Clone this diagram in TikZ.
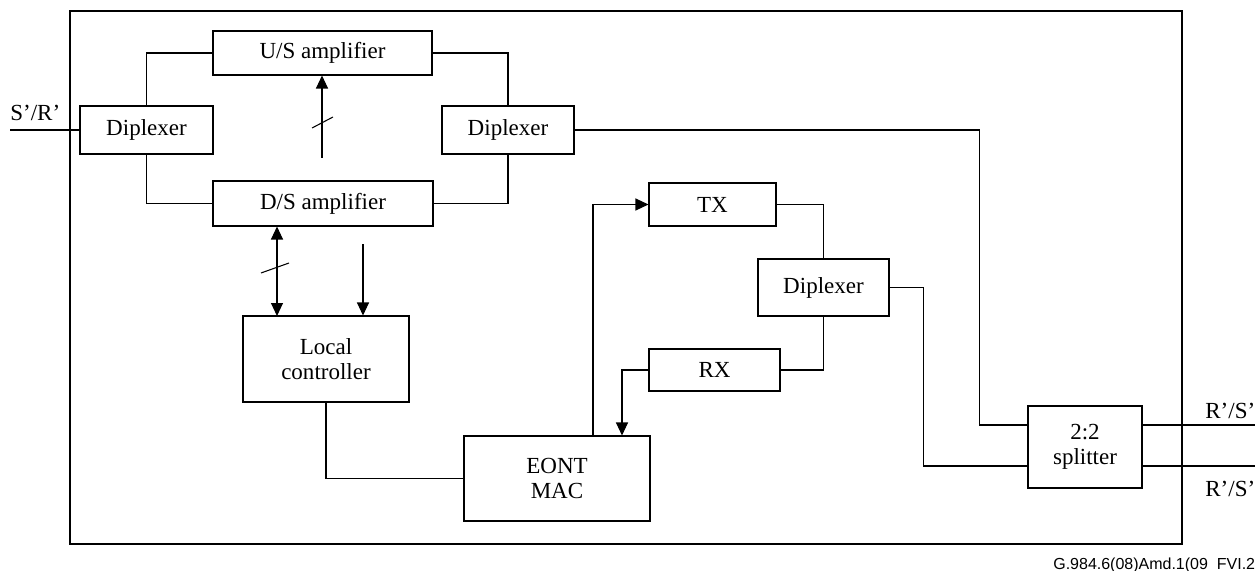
\documentclass[tikz,border=0pt]{standalone}
\usepackage{fontspec}
\setmainfont{Liberation Serif}
\newfontfamily\footfont{Liberation Sans}
\usepackage{tikz}
\usetikzlibrary{arrows.meta,positioning,calc}

\begin{document}
\begin{tikzpicture}[x=0.02cm, y=-0.02cm,
        bx/.style={draw, line width=0.6pt, inner sep=0pt, align=center,
                   font=\fontsize{13.1}{14.5}\selectfont},
        lbl/.style={inner sep=0pt, font=\fontsize{13.1}{14.5}\selectfont},
        ln/.style={line width=0.6pt},
        arr/.style={ln, -{Triangle[length=0.26cm,width=0.24cm]}},
        darr/.style={ln, {Triangle[length=0.26cm,width=0.24cm]}-{Triangle[length=0.26cm,width=0.24cm]}}
      ]
        \useasboundingbox (0,0) rectangle (1255,571);
        % outer frame
        \draw[line width=0.7pt] (70,11) rectangle (1182,544);
        % AMPLIFIER PART
        \node[bx, minimum width=2.66cm, minimum height=0.96cm] (dipL) at (146.5,130) {Diplexer};
        \node[bx, minimum width=4.38cm, minimum height=0.88cm] (us) at (322.5,53) {U/S amplifier};
        \node[bx, minimum width=4.40cm, minimum height=0.90cm] (ds) at (323,203.5) {D/S amplifier};
        \node[bx, minimum width=2.64cm, minimum height=0.96cm] (dipR) at (508,130) {Diplexer};
        \node[bx, minimum width=3.32cm, minimum height=1.72cm] (lc) at (326,359) {Local\\controller};
        % EONT PART
        \node[bx, minimum width=3.72cm, minimum height=1.70cm] (eont) at (557,478.5) {EONT\\MAC};
        \node[bx, minimum width=2.54cm, minimum height=0.86cm] (tx) at (712.5,204.5) {TX};
        \node[bx, minimum width=2.62cm, minimum height=1.14cm] (dipT) at (823.5,287.5) {Diplexer};
        \node[bx, minimum width=2.62cm, minimum height=0.84cm] (rx) at (714.5,370) {RX};
        \node[bx, minimum width=2.28cm, minimum height=1.64cm] (spl) at (1085,447) {2:2\\splitter};
        % ports
        \coordinate (srin) at (10,130);
        \coordinate (s1) at (1028,425);
        \coordinate (s2) at (1028,466);
        \coordinate (o1) at (1255,425);
        \coordinate (o2) at (1255,466);
        \node[lbl, anchor=base west] (srlbl) at (10,121) {S’/R’};
        \node[lbl, anchor=base west] (rs1) at (1205,418) {R’/S’};
        \node[lbl, anchor=base west] (rs2) at (1205,496) {R’/S’};
        \draw[ln] (srin) -- (dipL.west);
        \draw[ln] (s1 -| spl.east) -- (o1);
        \draw[ln] (s2 -| spl.east) -- (o2);
        % amplifier links
        \draw[ln] (dipL.north) |- (us.west);
        \draw[ln] (dipL.south) |- (ds.west);
        \draw[ln] (dipR.north) |- (us.east);
        \draw[ln] (dipR.south) |- (ds.east);
        % control arrows
        \coordinate (usin) at (322,158);
        \draw[arr] (usin) -- (usin |- us.south);
        \draw[ln] (312,128) -- (333,117);
        \coordinate (ctl) at (277,316);
        \draw[darr] (ctl |- ds.south) -- (ctl);
        \draw[ln] (261,273) -- (289,263);
        \coordinate (mon) at (363,244);
        \draw[arr] (mon) -- (mon |- lc.north);
        \draw[ln] (lc.south) |- (eont.west);
        % transceiver links
        \draw[arr] ($(eont.north)+(36,0)$) |- (tx.west);
        \draw[arr] (rx.west) -| ($(eont.north)+(65,0)$);
        \draw[ln] (tx.east) -| (dipT.north);
        \draw[ln] (rx.east) -| (dipT.south);
        % to splitter
        \draw[ln] (dipR.east) -- ++(405,0) |- (s1);
        \draw[ln] (dipT.east) -- ++(34,0) |- (s2);
        % figure tag
        \node[inner sep=0pt, anchor=base west, font=\footfont\fontsize{9.1}{10}\selectfont] (tag) at (1053,569) {G.984.6(08)Amd.1(09\_FVI.2};
      \end{tikzpicture}
\end{document}
